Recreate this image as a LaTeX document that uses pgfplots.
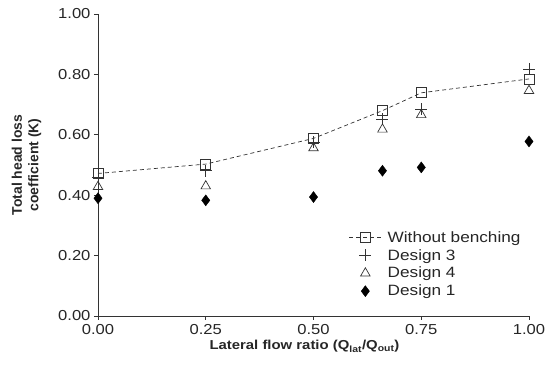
\documentclass[border=0pt]{standalone}
\usepackage{pgfplots}
\pgfplotsset{compat=1.18}
\usepackage{fontspec}
\setmainfont[FakeStretch=1.15]{Liberation Sans}
\newfontfamily\ylfont{Liberation Sans}
\begin{document}
\begin{tikzpicture}[x=1bp,y=1bp]
\begin{axis}[
  name=ax,
  scale only axis,
  width=431bp, height=302bp,
  xmin=0, xmax=1, ymin=0, ymax=1,
  axis x line*=bottom, axis y line*=left,
  axis line style={line width=0.8bp, black!80},
  xtick={0,0.25,0.5,0.75,1}, ytick={0,0.2,0.4,0.6,0.8,1},
  tick style={line width=0.8bp, black!80},
  tick align=outside, major tick length=4bp,
  /pgf/number format/assume math mode=true,
  /pgf/number format/.cd, fixed, fixed zerofill, precision=2, /pgfplots/.cd,
  tick label style={font=\fontsize{14.5}{16}\selectfont, text=black!85},
  xticklabel style={yshift=-1bp},
  xlabel={Lateral flow ratio (Q\textsubscript{lat}/Q\textsubscript{out})},
  ylabel={Total head loss\\coefficient (K)},
  xlabel style={font=\bfseries\fontsize{13}{15}\selectfont, text=black!85, yshift=1bp, xshift=-9bp},
  ylabel style={font=\ylfont\bfseries\fontsize{14}{16.5}\selectfont, align=center, text=black!85, yshift=10bp},
  legend style={draw=none, fill=none, at={(0.575,0.048)}, anchor=south west,
    font=\fontsize{15}{15}\selectfont, row sep=1.6bp, text=black!85,
    /tikz/every odd column/.append style={column sep=4bp}},
  legend image code/.code={\draw[mark repeat=2,mark phase=2] plot coordinates {(0bp,0bp)(16bp,0bp)(32bp,0bp)};},
  legend cell align=left,
  clip=false,
]
\addplot[black!80, dash pattern=on 4bp off 3bp, line width=0.7bp, mark=square, mark size=5bp, mark options={solid, fill=white, line width=0.7bp}]
coordinates {(0,0.472) (0.25,0.503) (0.5,0.588) (0.66,0.680) (0.75,0.739) (1,0.785)};
\addlegendentry{Without benching}
\addplot[only marks, black!80, mark=+, mark size=6bp, mark options={line width=0.8bp}]
coordinates {(0,0.46) (0.25,0.481) (0.5,0.576) (0.66,0.651) (0.75,0.684) (1,0.818)};
\addlegendentry{Design 3}
\addplot[only marks, black!80, mark=triangle, mark size=5.5bp, mark options={line width=0.7bp, fill=white}]
coordinates {(0,0.428) (0.25,0.430) (0.5,0.556) (0.66,0.618) (0.75,0.666) (1,0.746)};
\addlegendentry{Design 4}
\addplot[only marks, black, mark=diamond*, mark size=5.5bp, mark options={fill=black}]
coordinates {(0,0.390) (0.25,0.383) (0.5,0.394) (0.66,0.481) (0.75,0.492) (1,0.578)};
\addlegendentry{Design 1}
\end{axis}
\pgfresetboundingbox
\useasboundingbox ([shift={(-98bp,-60bp)}]ax.south west) rectangle ([shift={(21bp,14bp)}]ax.north east);
\end{tikzpicture}
\end{document}
